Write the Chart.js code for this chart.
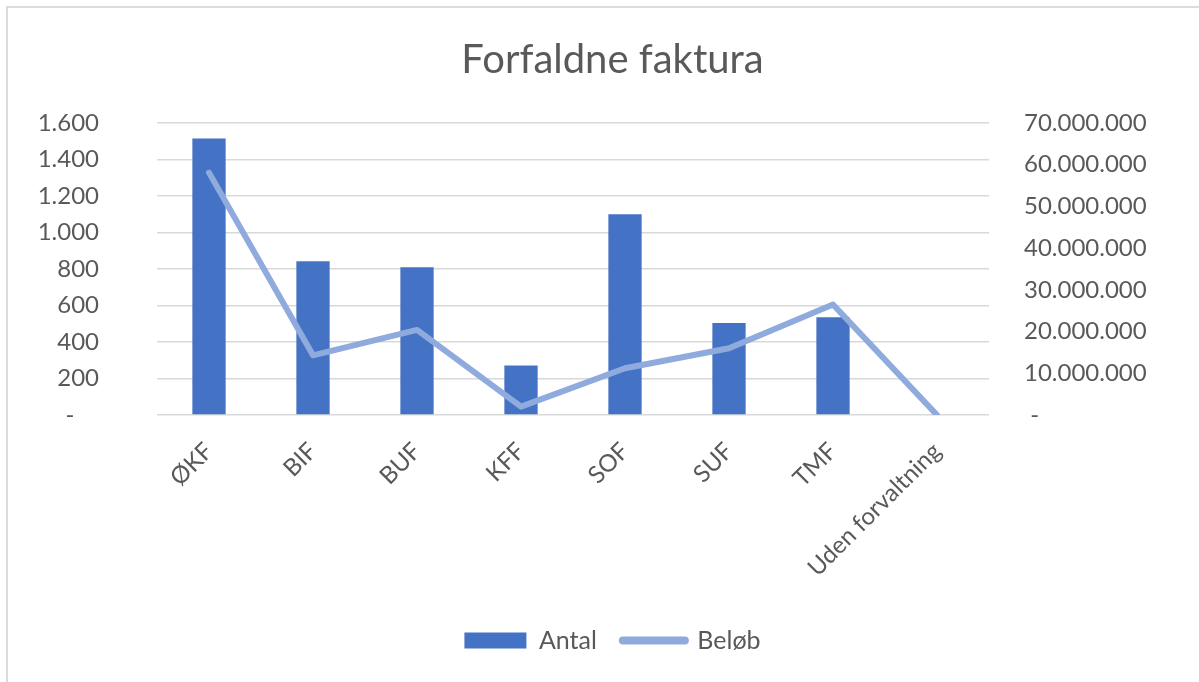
<!DOCTYPE html>
<html>
<head>
<meta charset="utf-8">
<script src="https://cdn.jsdelivr.net/npm/chart.js@4"></script>
<style>
    body { margin: 0; background: #fff; }
    #wrap { position: relative; width: 1199px; height: 682px; overflow: hidden; }
    #frame { position: absolute; left: 6px; top: 6px; width: 1300px; height: 800px; border: 2px solid #dcdcdc; }
    #chart { position: absolute; left: 0; top: 0; }
</style>
</head>
<body>
<div id="wrap">
    <div id="frame"></div>
    <canvas id="chart" width="1199" height="682"></canvas>
</div>
<script>
const categories = ["ØKF", "BIF", "BUF", "KFF", "SOF", "SUF", "TMF", "Uden forvaltning"];
const antal = [1515, 843, 810, 271, 1100, 504, 535, 0];
const beloeb = [58100000, 14300000, 20400000, 2000000, 11200000, 16000000, 26500000, 0];
const leftTicks = [0, 200, 400, 600, 800, 1000, 1200, 1400, 1600];
const rightTicks = [0, 10000000, 20000000, 30000000, 40000000, 50000000, 60000000, 70000000];

const textColor = "#595959";
const fontFamily = "Lato, 'Open Sans', sans-serif";

function dotted(value) {
    return String(value).replace(/\B(?=(\d{3})+(?!\d))/g, ".");
}

new Chart(document.getElementById("chart"), {
    data: {
        labels: categories,
        datasets: [{
            type: "bar",
            label: "Antal",
            data: antal,
            yAxisID: "y",
            backgroundColor: "#4472C4",
            borderWidth: 0,
            barPercentage: 0.32,
            categoryPercentage: 1,
            order: 1
        },
        {
            type: "line",
            label: "Beløb",
            data: beloeb,
            yAxisID: "y2",
            borderColor: "#8FAADC",
            backgroundColor: "#8FAADC",
            borderWidth: 6,
            borderCapStyle: "round",
            borderJoinStyle: "round",
            pointRadius: 0,
            tension: 0,
            order: 0
        }]
    },
    options: {
        responsive: false,
        animation: false,
        layout: {
            // asymmetric so title and legend sit a little right of centre, as in the original
            padding: { top: 10, left: 36, right: 10, bottom: 19 }
        },
        plugins: {
            tooltip: { enabled: false },
            title: {
                display: true,
                text: "Forfaldne faktura",
                color: textColor,
                padding: { top: 26, bottom: 39 },
                font: { family: fontFamily, size: 40, weight: "normal" }
            },
            legend: {
                position: "bottom",
                labels: {
                    color: textColor,
                    usePointStyle: true,
                    pointStyleWidth: 62,
                    boxHeight: 16,
                    padding: 26,
                    font: { family: fontFamily, size: 25 },
                    sort: (a, b) => a.datasetIndex - b.datasetIndex,
                    generateLabels(chart) {
                        return chart.data.datasets.map((ds, i) => ({
                            text: ds.label,
                            fillStyle: ds.backgroundColor,
                            strokeStyle: ds.type === "line" ? ds.borderColor : ds.backgroundColor,
                            lineWidth: ds.type === "line" ? 8 : 0,
                            lineCap: "round",
                            pointStyle: ds.type === "line" ? "line" : "rect",
                            fontColor: textColor,
                            datasetIndex: i,
                            hidden: false
                        }));
                    }
                }
            }
        },
        scales: {
            x: {
                grid: { display: false },
                border: { display: false },
                ticks: {
                    color: textColor,
                    font: { family: fontFamily, size: 24 },
                    minRotation: 45,
                    maxRotation: 45,
                    padding: 14
                },
                afterFit(scale) { scale.height = 187; }
            },
            y: {
                position: "left",
                min: 0,
                max: 1600,
                afterBuildTicks(scale) { scale.ticks = leftTicks.map(v => ({ value: v })); },
                grid: { color: "#D9D9D9", lineWidth: 1.5, drawTicks: false },
                border: { display: false },
                ticks: {
                    color: textColor,
                    font: { family: fontFamily, size: 24 },
                    padding: 58,
                    callback: v => v === 0 ? "-    " : dotted(v)
                },
                afterFit(scale) { scale.width = 121; }
            },
            y2: {
                position: "right",
                min: 0,
                max: 70000000,
                afterBuildTicks(scale) { scale.ticks = rightTicks.map(v => ({ value: v })); },
                grid: { display: false, drawTicks: false },
                border: { display: false },
                ticks: {
                    color: textColor,
                    font: { family: fontFamily, size: 24 },
                    padding: 35,
                    callback: v => v === 0 ? " -" : dotted(v)
                },
                afterFit(scale) { scale.width = 200; }
            }
        }
    }
});
</script>
</body>
</html>
